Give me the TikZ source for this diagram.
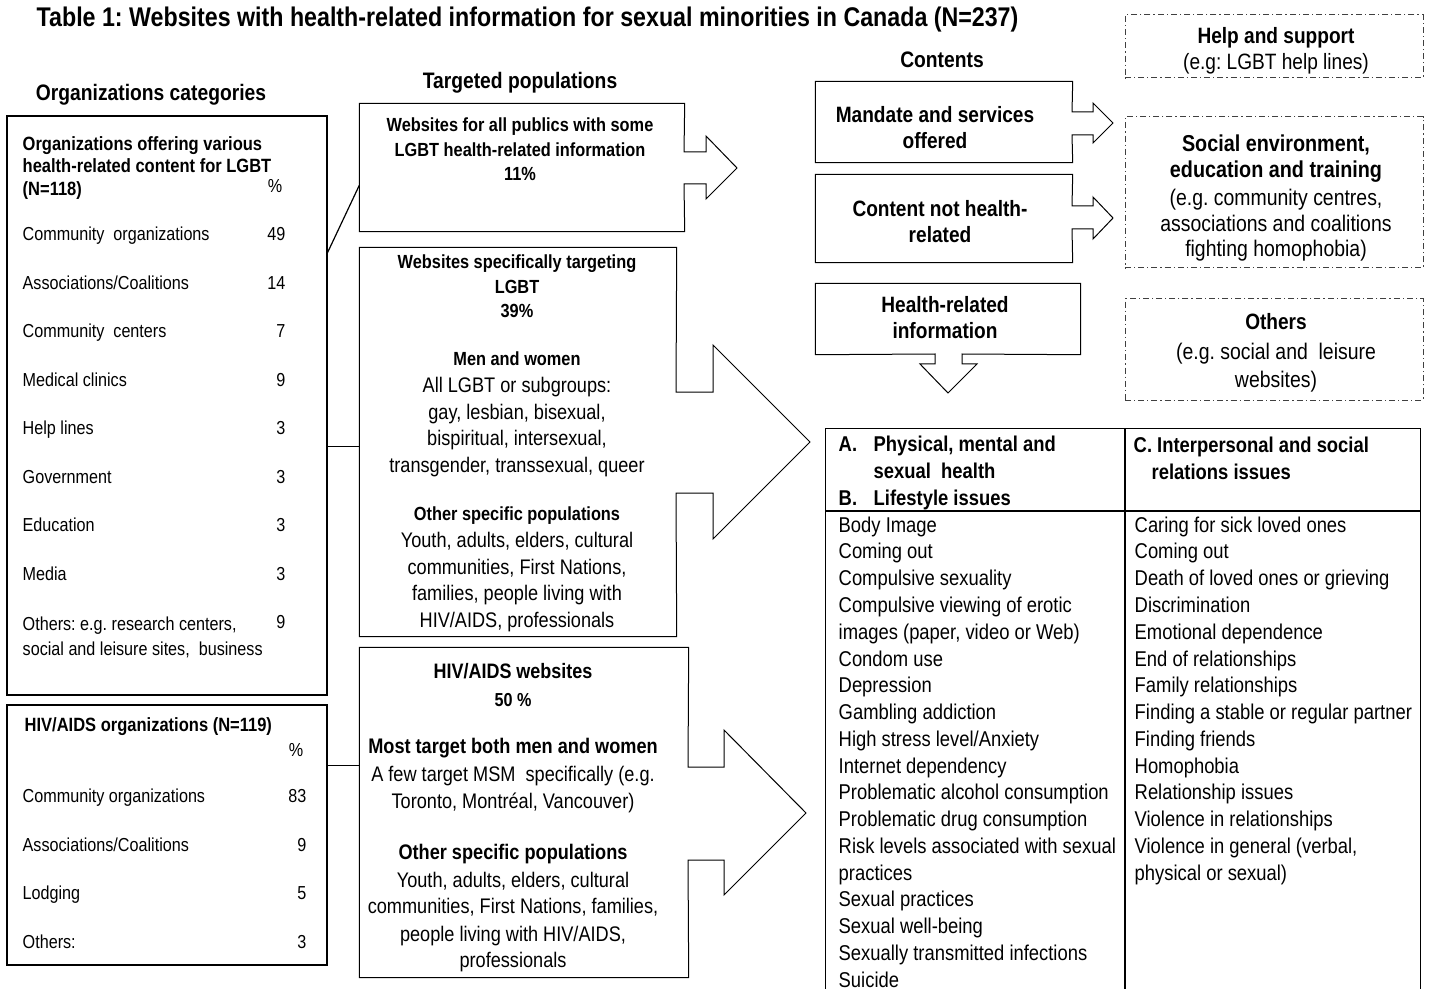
\documentclass[tikz,border=0pt]{standalone}
\usepackage{fontspec}
\setmainfont{Liberation Sans}[FakeStretch=0.86]
\usetikzlibrary{positioning,calc,fit}
\frenchspacing

\begin{document}
\begin{tikzpicture}[
    x=0.5pt, y=-0.5pt,
    line width=0.7pt,
    frame/.style={draw, inner sep=0pt},
    hidden/.style={inner sep=0pt},
    dashbox/.style={draw=black!75, inner sep=0pt, line width=0.5pt, dash pattern=on 3pt off 1.5pt on 0.6pt off 1.5pt},
    blockarrow/.style={draw, line width=0.5pt, line join=miter},
    colhead/.style={font=\fontsize{11.2}{13}\selectfont\bfseries, inner sep=0pt},
    lhead/.style={font=\fontsize{9.6}{11.25}\selectfont\bfseries, inner sep=0pt, align=left},
    row/.style={font=\fontsize{9.4}{12.5}\selectfont, inner sep=0pt, text height=6.9pt, text depth=2pt},
    sbold/.style={font=\fontsize{9.5}{12.25}\selectfont\bfseries, inner sep=0pt, align=center},
    poptxt/.style={font=\fontsize{10.55}{13.3}\selectfont, inner sep=0pt, align=center},
    cbold/.style={font=\fontsize{11.1}{13}\selectfont\bfseries, inner sep=0pt, align=center},
    dtxt/.style={font=\fontsize{11.1}{13}\selectfont, inner sep=0pt, align=center},
    tabtxt/.style={font=\fontsize{10.7}{13.38}\selectfont, inner sep=0pt, align=left}
]
\useasboundingbox (0,0) rectangle (1439,989);

% Title
\node[anchor=west, inner sep=0pt, font=\fontsize{13.5}{15}\selectfont\bfseries] (title) at (36,20)
    {Table 1: Websites with health-related information for sexual minorities in Canada (N=237)};

% ============ Organizations categories ============
\node[colhead] (orghead) at (151,95) {Organizations categories};

\node[frame, fit={(7,116) (327,695)}] (orgLGBT) {};
\node[lhead, anchor=north west] (lgbttitle) at (22,135.5) {Organizations offering various\\health-related content for LGBT\\(N=118)};
\node[row] (pc0) at (275,188) {\%};
\node[row, anchor=west] (c1) at (22,236) {Community\ \ organizations};
\node[row, anchor=east] (p1) at (286,236) {49};
\node[row, anchor=west] (c2) at (22,284.5) {Associations/Coalitions};
\node[row, anchor=east] (p2) at (286,284.5) {14};
\node[row, anchor=west] (c3) at (22,333) {Community\ \ centers};
\node[row, anchor=east] (p3) at (286,333) {7};
\node[row, anchor=west] (c4) at (22,381.5) {Medical clinics};
\node[row, anchor=east] (p4) at (286,381.5) {9};
\node[row, anchor=west] (c5) at (22,430) {Help lines};
\node[row, anchor=east] (p5) at (286,430) {3};
\node[row, anchor=west] (c6) at (22,478.5) {Government};
\node[row, anchor=east] (p6) at (286,478.5) {3};
\node[row, anchor=west] (c7) at (22,527) {Education};
\node[row, anchor=east] (p7) at (286,527) {3};
\node[row, anchor=west] (c8) at (22,575.5) {Media};
\node[row, anchor=east] (p8) at (286,575.5) {3};
\node[row, text height=, text depth=, align=left, anchor=north west] (c9) at (22,616.5)
    {Others: e.g. research centers,\\social and leisure sites,\ \ business};
\node[row, anchor=east] (p9) at (286,624) {9};

\node[frame, fit={(7,705) (327,965)}] (orgHIV) {};
\node[lhead, anchor=west] (hivtitle) at (24,727) {HIV/AIDS organizations (N=119)};
\node[row] (hc0) at (296,752) {\%};
\node[row, anchor=west] (h1) at (22,798) {Community organizations};
\node[row, anchor=east] (hp1) at (307,798) {83};
\node[row, anchor=west] (h2) at (22,847) {Associations/Coalitions};
\node[row, anchor=east] (hp2) at (307,847) {9};
\node[row, anchor=west] (h3) at (22,895) {Lodging};
\node[row, anchor=east] (hp3) at (307,895) {5};
\node[row, anchor=west] (h4) at (22,944) {Others:};
\node[row, anchor=east] (hp4) at (307,944) {3};

% ============ Targeted populations ============
\node[colhead] (pophead) at (520,83) {Targeted populations};

% all publics
\node[hidden, fit={(360,104) (684,231)}] (pubAll) {};
\draw[blockarrow] (pubAll.north west) -- (pubAll.north east) -- (684,152) -- (706,152) -- (706,136)
    -- (737,168) -- (706,199) -- (706,184) -- (684,184) -- (pubAll.south east) -- (pubAll.south west) -- cycle;
\node[sbold, anchor=north] (allt) at (520,117.5) {Websites for all publics with some\\LGBT health-related information\\11\%};

% LGBT specific
\node[hidden, fit={(360,248) (676,636)}] (pubLGBT) {};
\draw[blockarrow] (pubLGBT.north west) -- (pubLGBT.north east) -- (676,392) -- (713,392) -- (713,345)
    -- (810,442) -- (713,539) -- (713,493) -- (676,493) -- (pubLGBT.south east) -- (pubLGBT.south west) -- cycle;
\node[sbold, anchor=north] (lgbtt) at (517,254.5) {Websites specifically targeting\\LGBT\\39\%};
\node[poptxt, anchor=north] (lgbtmw) at (517,351.5)
    {{\fontsize{9.5}{13.3}\selectfont\bfseries Men and women}\\All LGBT or subgroups:\\gay, lesbian, bisexual,\\bispiritual, intersexual,\\transgender, transsexual, queer};
\node[poptxt, anchor=north] (lgbtos) at (517,506.5)
    {{\fontsize{9.5}{13.3}\selectfont\bfseries Other specific populations}\\Youth, adults, elders, cultural\\communities, First Nations,\\families, people living with\\HIV/AIDS, professionals};

% HIV/AIDS
\node[hidden, fit={(360,648) (688,977)}] (pubHIV) {};
\draw[blockarrow] (pubHIV.north west) -- (pubHIV.north east) -- (688,767) -- (724,767) -- (724,730)
    -- (806,813) -- (724,895) -- (724,860) -- (688,860) -- (pubHIV.south east) -- (pubHIV.south west) -- cycle;
\node[poptxt, font=\fontsize{10.45}{14}\selectfont\bfseries, anchor=north] (hivt) at (513,662.5)
    {HIV/AIDS websites\\{\fontsize{9.4}{14}\selectfont 50 \%}};
\node[poptxt, font=\fontsize{10.55}{13.7}\selectfont, anchor=north] (hivmw) at (513,738)
    {\textbf{Most target both men and women}\\A few target MSM\ \ specifically (e.g.\\Toronto, Montréal, Vancouver)};
\node[poptxt, font=\fontsize{10.55}{13.5}\selectfont, anchor=north] (hivos) at (513,844)
    {\textbf{Other specific populations}\\Youth, adults, elders, cultural\\communities, First Nations, families,\\people living with HIV/AIDS,\\professionals};

% connectors
\coordinate (j1) at ($(orgLGBT.north east)+(0,137)$);
\coordinate (j2) at ($(orgLGBT.north east)+(0,331)$);
\coordinate (j3) at ($(orgHIV.north east)+(0,61)$);
\draw[line width=0.6pt] (j1) -- ($(pubAll.north west)+(0,82)$);
\draw[line width=0.6pt] (j2) -- (pubLGBT.west |- j2);
\draw[line width=0.6pt] (j3) -- (pubHIV.west |- j3);

% ============ Contents ============
\node[colhead] (conthead) at (942,60) {Contents};

\node[hidden, fit={(816,82) (1072,162)}] (mandate) {};
\draw[blockarrow] (mandate.north west) -- (mandate.north east) -- (1072,112) -- (1093,112) -- (1093,103)
    -- (1113,123) -- (1093,143) -- (1093,135) -- (1072,135) -- (mandate.south east) -- (mandate.south west) -- cycle;
\node[cbold] (mandt) at (935,128) {Mandate and services\\offered};

\node[hidden, fit={(816,175) (1072,262)}] (nothealth) {};
\draw[blockarrow] (nothealth.north west) -- (nothealth.north east) -- (1072,206) -- (1093,206) -- (1093,197)
    -- (1113,218) -- (1093,239) -- (1093,229) -- (1072,229) -- (nothealth.south east) -- (nothealth.south west) -- cycle;
\node[cbold] (nht) at (940,222) {Content not health-\\related};

\node[hidden, fit={(816,284) (1080,354)}] (health) {};
\draw[blockarrow] (health.north west) -- (health.north east) -- (health.south east) -- (962,354) -- (962,364)
    -- (977,364) -- (948,393) -- (920,364) -- (935,364) -- (935,354) -- (health.south west) -- cycle;
\node[cbold] (hlt) at (945,318) {Health-related\\information};

% ============ dashed boxes ============
\node[dashbox, fit={(1125,15) (1423,78)}] (help) {};
\node[dtxt, anchor=north] (helpt) at (1276,27) {\textbf{Help and support}\\(e.g: LGBT help lines)};

\node[dashbox, fit={(1125,117) (1423,268)}] (social) {};
\node[cbold, font=\fontsize{11.5}{13}\selectfont\bfseries, anchor=north] (socialt) at (1276,134.5) {Social environment,\\education and training};
\node[dtxt, font=\fontsize{11.3}{12.75}\selectfont, anchor=north] (sociale) at (1276,188.5)
    {(e.g. community centres,\\associations and coalitions\\fighting homophobia)};

\node[dashbox, fit={(1125,299) (1423,400)}] (others) {};
\node[cbold] (otherst) at (1276,322) {Others};
\node[dtxt, font=\fontsize{11.3}{14}\selectfont, anchor=north] (otherse) at (1276,342.5)
    {(e.g. social and\ \ leisure\\websites)};

% ============ issues table ============
\node[hidden, fit={(826,429) (1420,989)}] (issues) {};
\draw (issues.south west) -- (issues.north west) -- (issues.north east) -- (issues.south east);
\draw (issues.west |- 0,511) -- (issues.east |- 0,511);
\draw (1125,429) -- (1125,989);

\node[tabtxt, font=\fontsize{10.7}{13.5}\selectfont\bfseries, anchor=north west] (hAB) at (838,435)
    {\makebox[17.5pt][l]{A.}Physical, mental and\\\hspace*{17.5pt}sexual\ \ health\\\makebox[17.5pt][l]{B.}Lifestyle issues};
\node[tabtxt, font=\fontsize{10.7}{13.5}\selectfont\bfseries, anchor=north west] (hC) at (1133,436)
    {C. Interpersonal and social\\\hspace*{9pt}relations issues};

\node[tabtxt, anchor=north west] (listAB) at (838,516)
    {Body Image\\Coming out\\Compulsive sexuality\\Compulsive viewing of erotic\\images (paper, video or Web)\\Condom use\\Depression\\Gambling addiction\\High stress level/Anxiety\\Internet dependency\\Problematic alcohol consumption\\Problematic drug consumption\\Risk levels associated with sexual\\practices\\Sexual practices\\Sexual well-being\\Sexually transmitted infections\\Suicide};
\node[tabtxt, anchor=north west] (listC) at (1134,516)
    {Caring for sick loved ones\\Coming out\\Death of loved ones or grieving\\Discrimination\\Emotional dependence\\End of relationships\\Family relationships\\Finding a stable or regular partner\\Finding friends\\Homophobia\\Relationship issues\\Violence in relationships\\Violence in general (verbal,\\physical or sexual)};

\end{tikzpicture}
\end{document}
